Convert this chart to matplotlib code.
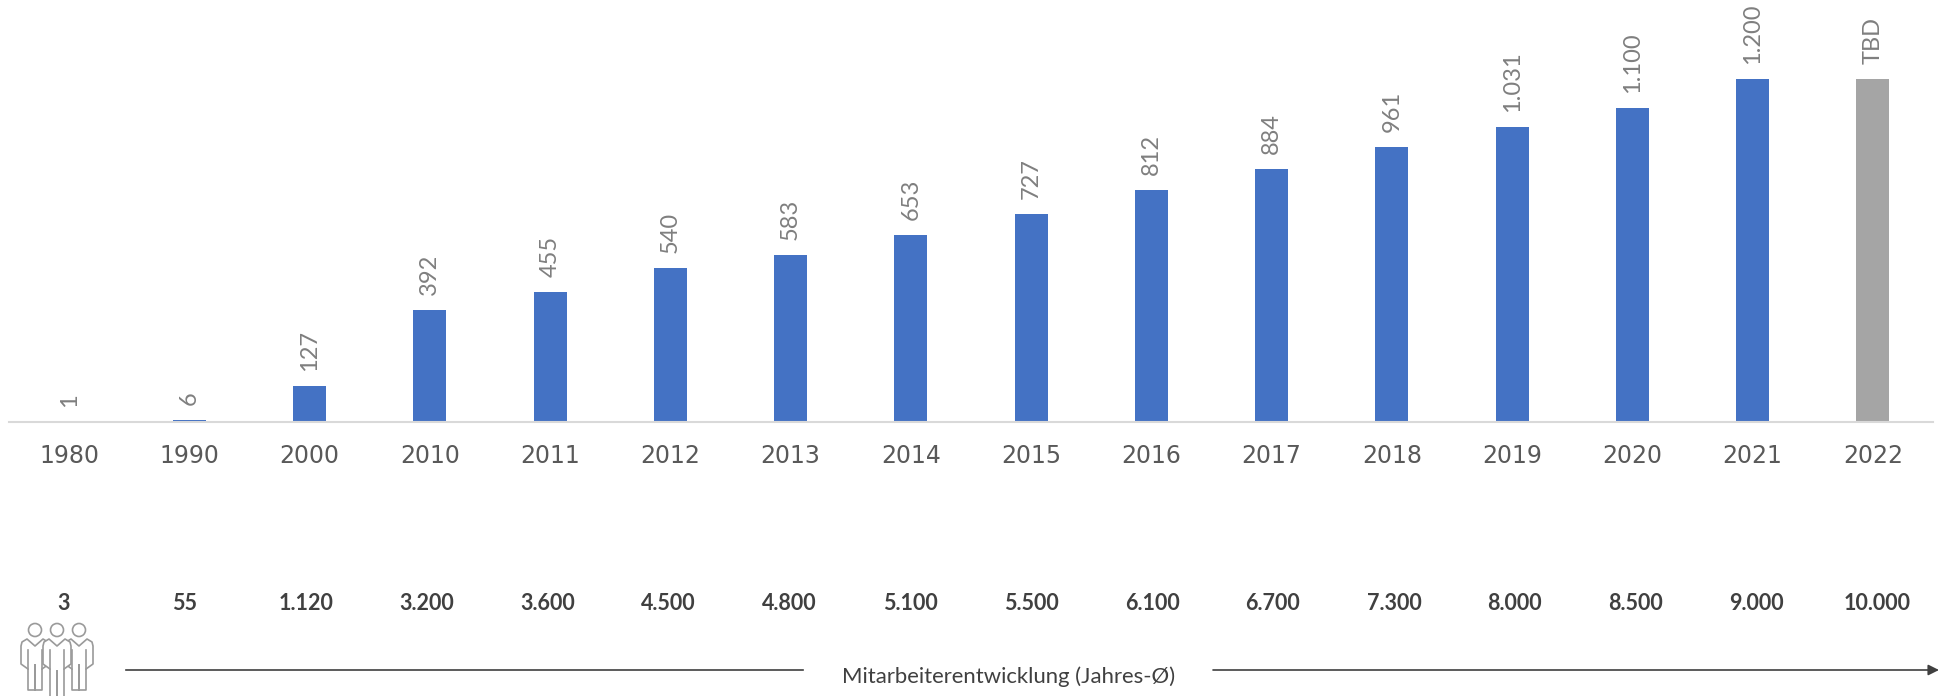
import matplotlib
matplotlib.use("Agg")
import matplotlib.pyplot as plt
from matplotlib.patches import Circle

plt.rcParams['font.family'] = ['Lato', 'DejaVu Sans']

years = ["1980", "1990", "2000", "2010", "2011", "2012", "2013", "2014",
         "2015", "2016", "2017", "2018", "2019", "2020", "2021", "2022"]
umsatz = [1, 6, 127, 392, 455, 540, 583, 653, 727, 812, 884, 961, 1031, 1100, 1200, 1200]
umsatz_labels = ["1", "6", "127", "392", "455", "540", "583", "653", "727", "812",
                 "884", "961", "1.031", "1.100", "1.200", "TBD"]
mitarbeiter = ["3", "55", "1.120", "3.200", "3.600", "4.500", "4.800", "5.100",
               "5.500", "6.100", "6.700", "7.300", "8.000", "8.500", "9.000", "10.000"]

W, H = 1941, 696
BLAU = "#4472c4"
GRAU = "#a5a5a5"

fig = plt.figure(figsize=(W / 100, H / 100), dpi=100)

# Balken: Achse von x=9 bis 1933, Grundlinie bei y=422
ax = fig.add_axes([9 / W, (H - 422) / H, (1933 - 9) / W, 422 / H])
x = list(range(len(years)))
colors = [BLAU] * 15 + [GRAU]
ax.bar(x, umsatz, width=0.275, color=colors)
ax.set_xlim(-0.5, 15.5)
ax.set_ylim(0, 1476)
ax.set_xticks(x)
# DejaVu ist breiter, das kommt der gesperrten Schrift im Original am naechsten
ax.set_xticklabels(years, fontsize=17, color="#595959", family="DejaVu Sans")
ax.tick_params(axis="x", length=0, pad=16)
ax.set_yticks([])
for s in ["top", "left", "right"]:
    ax.spines[s].set_visible(False)
ax.spines["bottom"].set_color("#d9d9d9")
ax.spines["bottom"].set_linewidth(1.5)

for xi, val, lab in zip(x, umsatz, umsatz_labels):
    ax.annotate(lab, (xi, val), xytext=(0, 15), textcoords="offset pixels",
                rotation=90, ha="center", va="bottom", fontsize=17, color="#7f7f7f")

# Overlay in Pixelkoordinaten fuer Mitarbeiterzeile, Pfeil und Icon
ov = fig.add_axes([0, 0, 1, 1])
ov.set_xlim(0, W)
ov.set_ylim(H, 0)
ov.axis("off")
ov.patch.set_alpha(0)

for i, lab in enumerate(mitarbeiter):
    ov.text(64 + 120.9 * i, 603, lab, ha="center", va="center", fontsize=15.5,
            fontweight="bold", color="#404040")

ov.plot([126, 803], [670, 670], color="#404040", lw=1.2)
ov.annotate("", xy=(1939, 670), xytext=(1213, 670),
            arrowprops=dict(arrowstyle="-|>", color="#404040", lw=1.2, mutation_scale=16,
                            shrinkA=0, shrinkB=0))
ov.text(1009, 677, "Mitarbeiterentwicklung (Jahres-Ø)", ha="center", va="center",
        fontsize=15.9, color="#404040")

# Icon: drei Personen
ICON = "#9a9a9a"


def person(cx, bottom, split, z):
    ov.add_patch(Circle((cx, 630), 6.5, fill=False, edgecolor=ICON, lw=1.2, zorder=z))
    xs = [cx, cx - 8, cx - 13, cx - 14, cx - 14, cx - 7, cx - 7, cx, cx, cx, cx + 7, cx + 7,
          cx + 14, cx + 14, cx + 13, cx + 8, cx]
    ys = [646, 639, 642, 646, 664, 669, bottom, bottom, split, bottom, bottom, 669,
          664, 646, 642, 639, 646]
    ov.fill(xs, ys, facecolor="white", edgecolor=ICON, lw=1.2, joinstyle="round", zorder=z)
    ov.plot([cx - 7, cx - 7], [650, 669], color=ICON, lw=1.2, zorder=z)
    ov.plot([cx + 7, cx + 7], [650, 669], color=ICON, lw=1.2, zorder=z)


person(35, 690, 665, 3)
person(79, 690, 665, 3)
person(57, 705, 671, 4)

fig.savefig("out.png", dpi=100)
